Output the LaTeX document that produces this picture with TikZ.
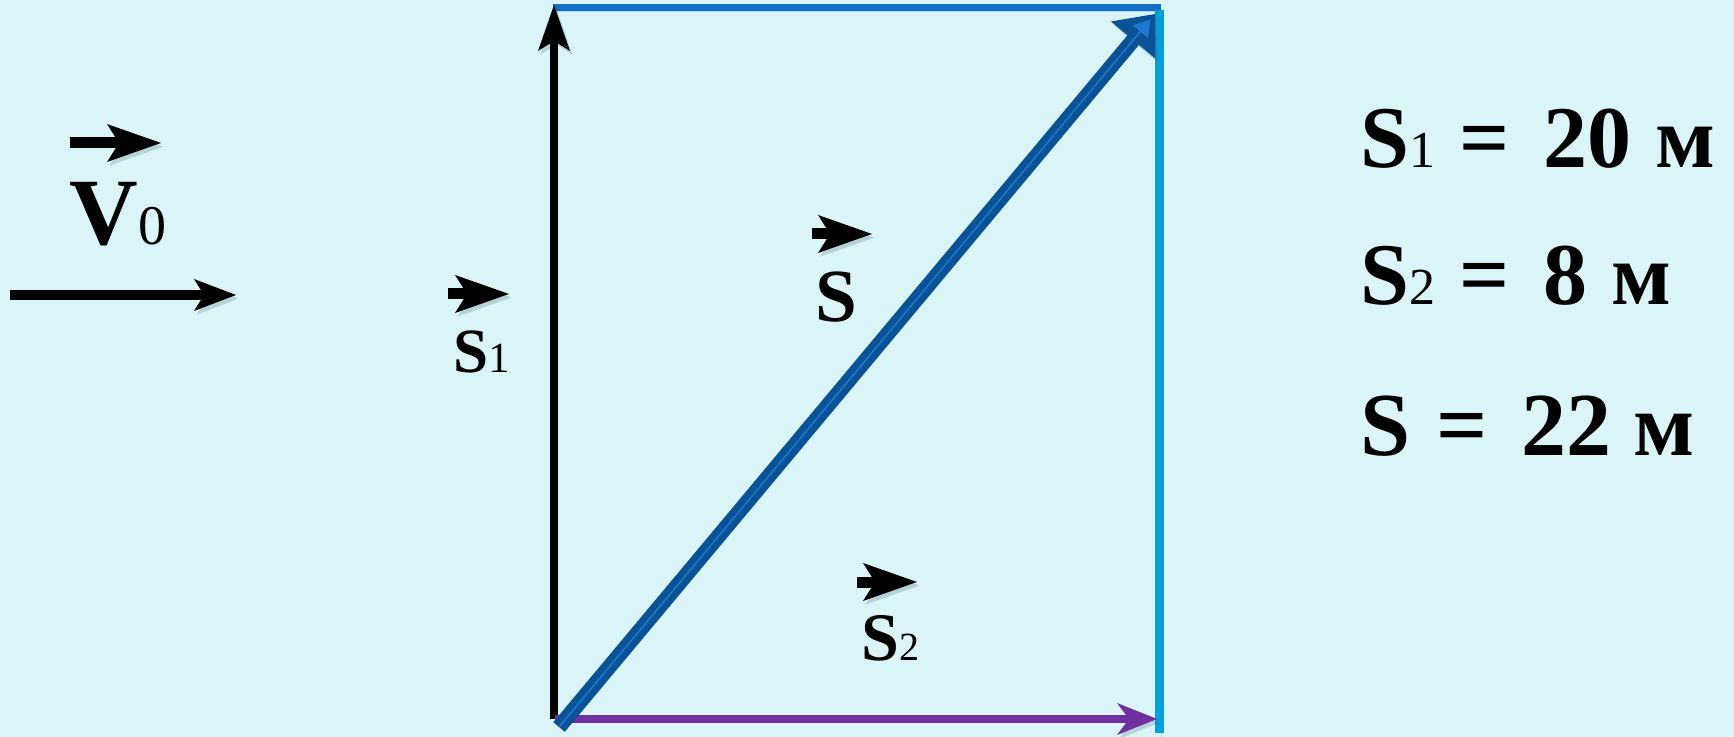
\documentclass[tikz,border=0pt]{standalone}
\usepackage{fontspec}
\setmainfont{Liberation Serif}
\usetikzlibrary{arrows.meta,calc}
\definecolor{bgc}{HTML}{DAF4F8}
\definecolor{topblue}{HTML}{1271C6}
\definecolor{sideblue}{HTML}{05A0DA}
\definecolor{purp}{HTML}{7030A0}
\definecolor{diagdark}{HTML}{0A5296}
\definecolor{diaglight}{HTML}{1E78D0}
\definecolor{shadowc}{HTML}{3A5A70}
\tikzset{
  shadowed/.style={preaction={draw=shadowc, opacity=0.22, transform canvas={shift={(1.2pt,-1.8pt)}}}},
  vecarrow/.style={shadowed, line width=5.5pt, -{Stealth[length=27pt,width=19pt,inset=6pt,line width=0pt]}},
  lbl/.style={inner sep=0pt, anchor=base west},
}
\begin{document}
\begin{tikzpicture}[x=0.5pt,y=-0.5pt]
\fill[bgc] (0,0) rectangle (1734,737);
\useasboundingbox (0,0) rectangle (1734,737);
% rectangle corners
\coordinate (TL) at (553,8);
\coordinate (TLtip) at (554,5);
\coordinate (TR) at (1161,8);
\coordinate (TRs) at (1159,10);
\coordinate (BR) at (1159,733);
\coordinate (BL) at (554,719);
\coordinate (Pst) at (555,719);
\coordinate (Pend) at (1157,719);
\coordinate (D1) at (559,727);
\coordinate (D2) at (1155,14);
% outline lines
\draw[shadowed, topblue, line width=3.5pt] (TL) -- (TR);
\draw[shadowed, sideblue, line width=4.5pt] (TRs) -- (BR);
\draw[shadowed, black, line width=3.6pt, -{Stealth[length=23pt,width=16pt,inset=5pt,line width=0pt]}] (BL) -- (TLtip);
\draw[shadowed, purp, line width=3.6pt, -{Stealth[length=20pt,width=16pt,inset=6pt,line width=0pt]}] (Pst) -- (Pend);
% diagonal S
\draw[shadowed, diagdark, line width=7.5pt, -{Triangle[length=17pt,width=29pt,line width=0pt]}] (D1) -- (D2);
\coordinate (D2in) at ($(D2)!3.5pt!(D1)$);
\draw[diaglight, line width=0.7pt, -{Triangle[length=8pt,width=10pt,line width=0pt]}] (D1) -- (D2in);
% V0
\coordinate (v0a) at (70,143);
\coordinate (v0b) at (161,143);
\draw[vecarrow] (v0a) -- (v0b);
\node[lbl] (v0) at (69,245) {\fontsize{47.5pt}{50pt}\selectfont\bfseries V{\mdseries\fontsize{28pt}{30pt}\selectfont 0}};
\coordinate (va) at (10,295);
\coordinate (vb) at (236,295);
\draw[shadowed, black, line width=4.6pt, -{Stealth[length=21pt,width=16pt,inset=5pt,line width=0pt]}] (va) -- (vb);
% S1 label
\coordinate (s1a) at (448,294);
\coordinate (s1b) at (509,294);
\draw[vecarrow] (s1a) -- (s1b);
\node[lbl] (s1) at (453,372) {\fontsize{31.5pt}{34pt}\selectfont\bfseries S{\mdseries\fontsize{21.5pt}{24pt}\selectfont 1}};
% S label
\coordinate (sa) at (812,234);
\coordinate (sb) at (872,234);
\draw[vecarrow] (sa) -- (sb);
\node[lbl] (s) at (815,322) {\fontsize{37.5pt}{40pt}\selectfont\bfseries S};
% S2 label
\coordinate (s2a) at (857,582);
\coordinate (s2b) at (917,582);
\draw[vecarrow] (s2a) -- (s2b);
\node[lbl] (s2) at (861,660) {\fontsize{34pt}{36pt}\selectfont\bfseries S{\mdseries\fontsize{20pt}{22pt}\selectfont 2}};
% equations
\node[lbl] (eq1) at (1360,168) {\fontsize{44pt}{48pt}\selectfont\bfseries S{\mdseries\fontsize{26pt}{28pt}\selectfont 1}\hspace{12pt}=\hspace{17pt}20\hspace{12pt}м};
\node[lbl] (eq2) at (1360,305) {\fontsize{44pt}{48pt}\selectfont\bfseries S{\mdseries\fontsize{26pt}{28pt}\selectfont 2}\hspace{12pt}=\hspace{17pt}8\hspace{12pt}м};
\node[lbl] (eq3) at (1360,455) {\fontsize{45pt}{48pt}\selectfont\bfseries S\hspace{13pt}=\hspace{17pt}22\hspace{11pt}м};
\end{tikzpicture}
\end{document}
